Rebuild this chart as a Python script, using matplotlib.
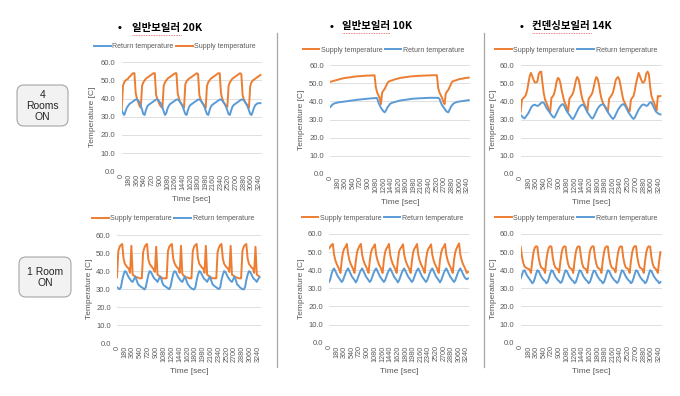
import matplotlib
matplotlib.use('Agg')
import matplotlib.pyplot as plt
from matplotlib.patches import FancyBboxPatch
import numpy as np

plt.rcParams['font.family'] = ['Liberation Sans', 'Noto Sans CJK KR', 'DejaVu Sans']

# one sample every 30 s, x tick labels every 180 s
step_sec = 30
tick_sec = list(range(0, 3241, 180))

headers = ['일반보일러 20K', '일반보일러 10K', '컨덴싱보일러 14K']
row_labels = ['4\nRooms\nON', '1 Room\nON']

# ---- 4 rooms ON ----
supply_20k_4 = [34, 47, 49, 50, 50.5, 51, 52, 52.5, 53.5, 54,
                54, 43, 40, 38, 36, 35, 47, 49, 50, 51,
                51.5, 52, 52.5, 53, 53.5, 54, 54, 42, 40, 38,
                36.5, 35.5, 35, 47, 49, 50, 51, 51.5, 52, 52.5,
                53, 53.5, 54, 54, 43, 40, 38, 37, 36, 35,
                48, 49.5, 50.5, 51, 51.5, 52, 52.5, 53, 53.5, 54,
                53.5, 42, 39.5, 38, 37, 36, 35, 47, 49, 50,
                51, 51.5, 52, 52.5, 53, 53.5, 54, 54, 43, 40,
                38, 37, 36, 35.5, 47, 49, 50, 51, 51.5, 52,
                52.5, 53, 53.5, 54, 53.5, 42, 39.5, 38, 37, 36,
                35, 47, 49, 50, 50.5, 51, 51.5, 52, 52.5, 53]
return_20k_4 = [33.5, 32, 31, 33, 35, 36, 37, 37.5, 38, 38.5,
                39, 39.5, 39.5, 39, 38, 36, 34, 31.5, 31, 33.5,
                35.5, 36.5, 37, 37.5, 38, 38.5, 39, 39.5, 39.5, 39,
                38, 37, 35, 33, 31, 32, 34.5, 36, 37, 37.5,
                38, 38.5, 39, 39.5, 39.5, 39, 38, 37, 35.5, 33.5,
                31.5, 31, 33.5, 35.5, 36.5, 37, 37.5, 38, 38.5, 39,
                39.5, 39.5, 39, 38, 37, 35.5, 33.5, 31.5, 31, 33.5,
                35.5, 36.5, 37, 37.5, 38, 38.5, 39, 39.5, 39.5, 39,
                38, 37, 35.5, 33.5, 31.5, 31, 33.5, 35.5, 36.5, 37,
                37.5, 38, 38.5, 39, 39.5, 39.5, 39, 38, 37, 35.5,
                33.5, 31.5, 31, 33, 35, 36.5, 37, 37.5, 37.5, 37.5]

supply_10k_4 = [50.8, 51, 51.2, 51.4, 51.6, 51.8, 52, 52.2, 52.4, 52.6,
                52.7, 52.9, 53, 53.1, 53.2, 53.3, 53.4, 53.5, 53.6, 53.7,
                53.8, 53.9, 53.9, 54, 54, 54.1, 54.1, 54.2, 54.2, 54.3,
                54.3, 54.3, 54.4, 54.4, 54.4, 54.5, 48, 45, 43.5, 42,
                38.5, 45, 46, 47, 48.5, 50, 51, 51.2, 51.5, 51.7,
                52, 52.2, 52.4, 52.6, 52.8, 53, 53.1, 53.2, 53.3, 53.4,
                53.5, 53.6, 53.7, 53.8, 53.9, 53.9, 54, 54, 54.1, 54.1,
                54.2, 54.2, 54.2, 54.3, 54.3, 54.3, 54.4, 54.4, 54.4, 54.4,
                54.5, 54.5, 54.5, 54.5, 54.5, 47.5, 45, 43.5, 42, 40,
                38.5, 44.5, 45.5, 46.5, 48, 49.5, 51, 51.2, 51.5, 51.7,
                52, 52.2, 52.4, 52.5, 52.6, 52.8, 52.9, 53, 53.1, 53.2]
return_10k_4 = [36.8, 37.5, 38.3, 38.8, 39, 39.2, 39.4, 39.5, 39.6, 39.7,
                39.8, 39.9, 40, 40.1, 40.2, 40.3, 40.4, 40.5, 40.6, 40.7,
                40.8, 40.9, 41, 41, 41.1, 41.2, 41.3, 41.3, 41.4, 41.5,
                41.5, 41.6, 41.7, 41.7, 41.8, 41.8, 41.9, 41.9, 39.5, 38,
                36.5, 35.5, 34.5, 34, 35, 36.5, 37.5, 38.5, 39, 39.3,
                39.5, 39.7, 39.9, 40.1, 40.3, 40.5, 40.6, 40.7, 40.8, 40.9,
                41, 41.1, 41.2, 41.3, 41.4, 41.5, 41.5, 41.6, 41.6, 41.7,
                41.7, 41.8, 41.8, 41.8, 41.9, 41.9, 41.9, 42, 42, 42,
                42, 42, 42, 42, 42, 42, 41.5, 39.5, 38, 37,
                36, 35, 34.2, 34, 35.5, 37, 38, 38.8, 39.2, 39.5,
                39.7, 39.9, 40, 40.1, 40.2, 40.3, 40.4, 40.5, 40.6, 40.7]

supply_14k_4 = [34.3, 41, 41.8, 42.5, 43.5, 46, 50, 54, 55.8, 54,
                52, 50.5, 50.5, 51, 55, 56.3, 56.5, 50, 44.5, 41,
                39.5, 37.5, 35, 34.3, 42, 42.8, 44, 47, 51, 53,
                52.5, 50, 46, 43, 40, 38.5, 36.5, 34.5, 41.5, 42.5,
                43.5, 45, 48, 51.5, 53.5, 52.5, 49.5, 45, 41.5, 39.5,
                38, 36.5, 34.5, 41.5, 42.5, 43.5, 45, 48, 51.5, 53.5,
                52.5, 49.5, 45, 41.5, 39.5, 38, 36.5, 35.5, 34.5, 41.5,
                42.5, 43.5, 45, 48, 51.5, 53, 53.5, 52, 48.5, 44.5,
                41, 39.5, 38, 36.5, 35, 34.5, 41, 42, 43, 46,
                50, 53, 55.8, 54, 52, 50.5, 50.5, 52, 55.5, 56.5,
                55, 48, 43, 41, 39.5, 37.5, 35, 43, 42.8, 43]
return_14k_4 = [32.5, 31.8, 31, 30.6, 31.5, 32.5, 33.5, 35, 36.5, 37.5,
                38, 38.2, 37.8, 37.5, 37.8, 38.5, 39.2, 39.5, 39.3, 38,
                36.5, 35.5, 34.5, 33.5, 32.5, 31.5, 31, 32, 33.5, 35,
                36.5, 37.5, 38.3, 38.5, 37.5, 36, 34.5, 33.5, 32.5, 31.5,
                30.5, 30.3, 31.5, 33, 34.5, 36, 37, 37.8, 38.2, 38,
                37, 35.5, 34, 33, 32, 31, 30.5, 31.5, 33, 34.5,
                36, 37, 37.8, 38.2, 38.5, 38, 37, 35.5, 34, 33,
                32, 31, 30.3, 31, 32.5, 34, 35.5, 36.5, 37.5, 38.2,
                38.5, 38, 37, 35.5, 34, 33, 32, 31, 30.3, 31,
                32.5, 34, 35.5, 36.5, 37.5, 38.2, 38.3, 38, 37.5, 37.8,
                38.8, 39.5, 39.5, 38, 36.5, 35, 34, 33.5, 33, 32.8]

# ---- 1 room ON ----
supply_20k_1 = [36.5, 51, 53.5, 54.5, 55, 47, 44, 43, 42, 41.5, 39, 54, 38, 37.5, 37, 36.5, 36.5, 36, 36,
                36, 50.5, 53, 54.5, 55, 46.5, 44, 43, 42, 41, 39.5, 53.5, 38, 37.5, 37, 36.5, 36, 36, 36,
                36, 51, 53.5, 54.5, 55, 47, 44.5, 43, 42, 41.5, 39, 54, 38.5, 37.5, 37, 36.5, 36.5, 36, 36,
                36, 51, 53.5, 54.5, 55, 47, 44, 43, 42, 41.5, 39, 54, 38, 37.5, 37, 36.5, 36, 36, 36,
                36, 50.5, 53, 54.5, 55, 47, 44, 43, 42, 41.5, 39.5, 54, 38, 37.5, 37, 36.5, 36.5, 36, 36,
                36, 51, 53.5, 54.5, 55, 47, 44, 43, 42, 41.5, 39, 53.5, 38, 37.5, 37]
return_20k_1 = [31, 30.5, 30, 31, 35, 38, 40, 39.5, 38, 36.5, 35.5, 34.5, 34, 35.5, 37, 35, 33, 32, 31.5,
                31, 30.5, 29.8, 31, 34.5, 38, 40, 39.5, 38, 36.5, 35.5, 35, 34, 35.5, 37, 35.5, 33, 32, 31.5,
                31, 30.5, 30, 31.5, 35, 38.5, 40, 39.5, 38, 36.5, 35.5, 34.5, 34, 35.5, 37, 35, 33, 32, 31,
                30.5, 30, 29.8, 31, 35, 38, 40, 39.5, 38, 36.5, 35.5, 35, 34, 35.5, 37, 35, 33, 32, 31.5,
                31, 30.5, 30, 31, 35, 38, 40, 39.5, 38, 36.5, 35.5, 34.5, 34, 35.5, 37, 35, 32.5, 32, 31,
                30.5, 30, 29.8, 31, 35, 38, 40, 39.5, 38, 36.5, 35.5, 35, 34, 35.5, 36.5]

supply_10k_1 = [52, 53, 54,
                54.5, 48.5, 45.5, 43.5, 42, 40.5, 38.5, 45.5, 50, 52, 53,
                54.5, 49, 45.5, 43.5, 42, 40.5, 38.5, 45, 50, 52, 53.5,
                54.5, 48.5, 45.5, 43.5, 42, 40.5, 38.5, 45.5, 50, 52, 53,
                54.3, 48.5, 45.5, 43.5, 42, 40.5, 38.5, 45.5, 50, 52, 53,
                54.5, 48.5, 45.5, 43.5, 42, 40.5, 38.5, 45.5, 50.5, 52, 53,
                54.3, 48.5, 45.5, 43.5, 42, 40.5, 38.5, 45, 50, 52, 53,
                54.5, 48.5, 45.5, 43.5, 42, 40.5, 38.5, 45.5, 50, 52, 53,
                54.3, 48.5, 45.5, 43.5, 42, 40.5, 38.5, 45.5, 50, 52, 53,
                54.5, 48.5, 45.5, 43.5, 42, 40.5, 38.5, 45.5, 50, 52, 53.5,
                54.8, 48.5, 45.5, 43.5, 42, 40.5, 38.5, 39]
return_10k_1 = [33.5, 35, 38,
                40, 41, 39.5, 38, 36.5, 35.5, 34.5, 33.5, 34.5, 36.5, 38.5,
                40, 41, 39.5, 38, 36.5, 35.5, 34.5, 33.3, 34.5, 36.5, 38.5,
                40, 41, 39.5, 38, 36.5, 35.5, 34.5, 33.5, 34.5, 36.5, 38.5,
                40, 41, 39.5, 38, 36.5, 35.5, 34.5, 33.5, 34.5, 36.5, 38.5,
                40, 41, 39.5, 38, 36.5, 35.5, 34.5, 33.3, 34.5, 36.5, 38.5,
                40, 41, 39.5, 38, 36.5, 35.5, 34.5, 33.5, 34.5, 36.5, 38.5,
                40, 41, 39.5, 38, 36.5, 35.5, 34.5, 33.5, 34.5, 36.5, 38.5,
                40, 41, 39.5, 38, 36.5, 35.5, 34.5, 33.3, 34.5, 36.5, 38.5,
                40, 41, 39.5, 38, 36.5, 35.5, 34.5, 33.5, 34.5, 36.5, 38.5,
                40, 41, 39.5, 38, 36.5, 35.5, 35, 35.5]

supply_14k_1 = [53, 47.5, 44, 42, 41.5, 41, 40.8, 40.3,
                38.5, 45, 50, 52.5, 53.2, 53, 47, 43.5, 41.5, 41, 40.5,
                38.5, 45.5, 50, 52.5, 53.3, 53, 47, 43.5, 41.5, 41, 40.5,
                38.8, 45, 50, 52.5, 53.2, 53, 47, 43.5, 41.5, 41, 40.5,
                38.5, 45, 50, 52.5, 53.2, 53, 47.5, 43.5, 41.5, 41, 40.5,
                38.5, 45, 50.5, 52.5, 53.3, 53, 47, 43.5, 41.5, 41, 40.5,
                38.5, 45, 50, 52.5, 53.2, 53, 47, 43.5, 41.5, 41, 40.5,
                38.8, 45, 50, 52.5, 53.2, 53, 47, 43.5, 41.5, 41, 40.5,
                38.5, 45, 50, 52.5, 53.3, 53.2, 47, 43.5, 41.5, 41, 40.5,
                38.5, 45, 50, 52.5, 53.2, 53, 47, 43.5, 41.5, 41, 40,
                38.5, 45, 50]
return_14k_1 = [35.5, 37.5, 39.5, 40, 38.5, 37, 36, 35,
                34, 32.8, 33.5, 35.5, 38, 40, 39.5, 38, 36.5, 35.5, 34.5,
                34, 32.8, 33.5, 35.5, 38, 40, 39.5, 38, 36.5, 35.5, 34.5,
                34, 33, 33.5, 35.5, 38, 40, 39.5, 38, 36.5, 35.5, 34.5,
                34, 32.8, 33.5, 35.5, 38, 40, 39.5, 38, 36.5, 35.5, 34.5,
                34, 32.8, 33.5, 35.5, 38, 39.8, 39.5, 38, 36.5, 35.5, 34.5,
                34, 32.8, 33.5, 35.5, 38, 40, 39.5, 38, 36.5, 35.5, 34.5,
                34, 33, 33.5, 35.5, 38, 40, 39.5, 38, 36.5, 35.5, 34.5,
                34, 32.8, 33.5, 35.5, 38, 40, 39.5, 38, 36.5, 35.5, 34.5,
                34, 32.8, 33.5, 35.5, 38, 40, 39.5, 38, 36.5, 35.5, 34.5,
                34, 32.8, 33.5]

orange = '#ED7D31'
blue = '#5B9BD5'
grey = '#595959'
W, H = 680, 396

fig = plt.figure(figsize=(W / 100, H / 100), dpi=100)

# background layer in pixel coordinates for boxes, separators, headers
bg = fig.add_axes([0, 0, 1, 1], zorder=0)
bg.set_xlim(0, W)
bg.set_ylim(H, 0)
bg.axis('off')

for x in [277, 484]:
    bg.plot([x, x], [33, 367], color='#A6A6A6', lw=0.9)

for (bx, by, bw, bh), txt in zip([(17, 85, 51, 41), (19, 257, 52, 40)], row_labels):
    bg.add_patch(FancyBboxPatch((bx, by), bw, bh, boxstyle='round,pad=0,rounding_size=7',
                                fc='#F2F2F2', ec='#A6A6A6', lw=0.8))
    bg.text(bx + bw / 2, by + bh / 2 + 0.5, txt, ha='center', va='center',
            fontsize=7.5, color='#262626', linespacing=1.15)

for (bx, tx, ty, ux), txt in zip([(120, 132, 28, 182), (332, 342, 26.5, 390), (522, 532, 26.5, 592)], headers):
    bg.text(bx, ty, '•', ha='center', va='center', fontsize=8, fontweight='bold', color='black')
    bg.text(tx, ty, txt, ha='left', va='center', fontsize=7.5, fontweight='bold',
            family=['Noto Sans CJK KR', 'DejaVu Sans'], color='black')
    # spell-check squiggle under the Korean word
    bg.plot([tx, ux], [ty + 6.8, ty + 6.8], color='#E05A5A', lw=0.6, ls=(0, (1, 1)))

# panel boxes in pixels: left, right, top(60), bottom(0)
panels = [
    ((121.7, 261.7, 62.3, 171.3), supply_20k_4, return_20k_4, 'return', (175, 47), -0.205, -0.263),
    ((330, 470, 65.3, 173.7), supply_10k_4, return_10k_4, 'supply', (383.5, 50), -0.202, -0.263),
    ((520.7, 661.7, 65.3, 173.7), supply_14k_4, return_14k_4, 'supply', (576, 50), -0.19, -0.263),
    ((117, 260.7, 235, 343.3), supply_20k_1, return_20k_1, 'supply', (173, 219), -0.194, -0.265),
    ((329, 469.3, 234, 342.7), supply_10k_1, return_10k_1, 'supply', (382.5, 218), -0.195, -0.265),
    ((520.7, 661.7, 234, 342.7), supply_14k_1, return_14k_1, 'supply', (576, 218), -0.19, -0.265),
]

for (l, r, t, b), sup, ret, first, (lx, ly), ylab_x, xlab_y in panels:
    ax = fig.add_axes([l / W, 1 - b / H, (r - l) / W, (b - t) / H], zorder=1)
    ax.set_facecolor('none')
    hs, = ax.plot(step_sec * np.arange(len(sup)), sup, color=orange, lw=1.4,
                  label='Supply temperature')
    hr, = ax.plot(step_sec * np.arange(len(ret)), ret, color=blue, lw=1.4,
                  label='Return temperature')
    ax.set_xlim(0, 3300)
    ax.set_ylim(0, 60)
    ax.set_yticks(range(0, 61, 10))
    ax.set_yticklabels(['%.1f' % v for v in range(0, 61, 10)])
    ax.set_xticks(tick_sec)
    ax.set_xticklabels([str(v) for v in tick_sec], rotation=90)
    ax.tick_params(axis='y', length=0, labelsize=5.5, colors=grey, pad=4.5)
    ax.tick_params(axis='x', length=0, labelsize=5.2, colors=grey, pad=2)
    ax.grid(axis='y', color='#D9D9D9', lw=0.6)
    ax.set_axisbelow(True)
    for s in ax.spines.values():
        s.set_visible(False)
    ax.set_ylabel('Temperature [C]', fontsize=6, color=grey, va='center')
    ax.yaxis.set_label_coords(ylab_x, 0.5)
    ax.set_xlabel('Time [sec]', fontsize=6, color=grey, va='center')
    ax.xaxis.set_label_coords(0.5, xlab_y)
    handles = [hr, hs] if first == 'return' else [hs, hr]
    ax.legend(handles=handles, loc='center', bbox_to_anchor=(lx / W, 1 - ly / H),
              bbox_transform=fig.transFigure, ncol=2, frameon=False, fontsize=5,
              handlelength=2.4, handletextpad=0.25, columnspacing=0.3,
              borderpad=0, labelcolor=grey)

fig.savefig('out.png', dpi=100)
